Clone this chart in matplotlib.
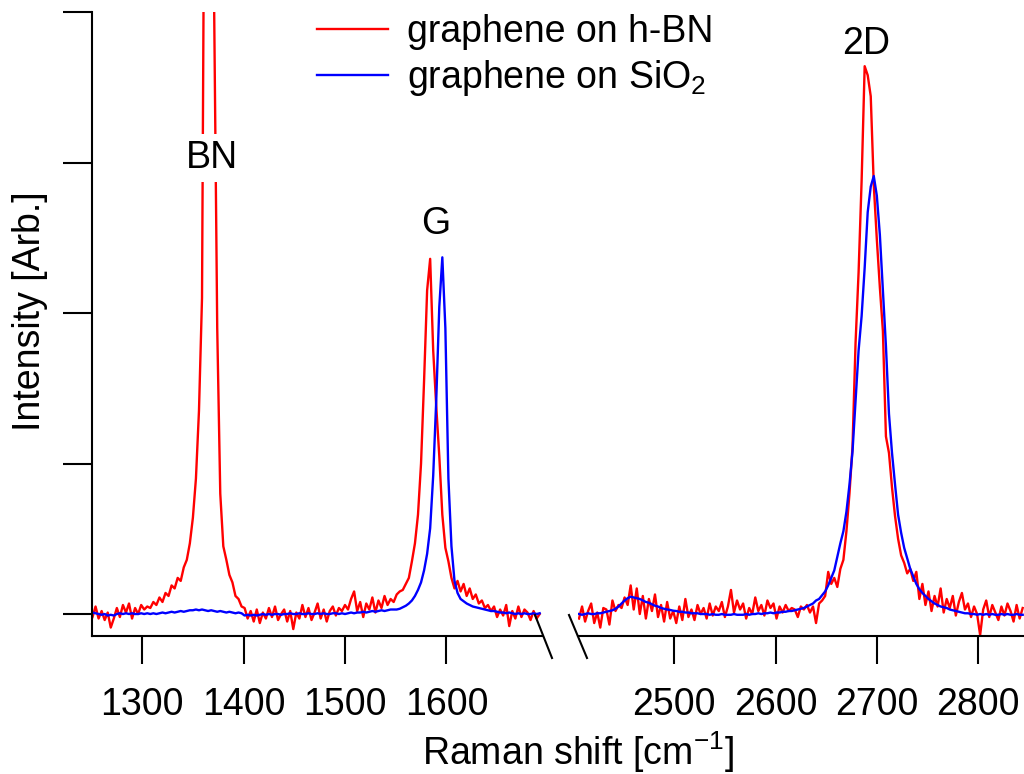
#!/usr/bin/env python
# -*- coding: utf-8 -*-
"""Raman spectra of graphene on h-BN and on SiO2, broken x axis."""

import numpy as np
import matplotlib
matplotlib.use('Agg')
import matplotlib.pyplot as plt
from matplotlib.lines import Line2D

plt.rcParams['font.family'] = ['Liberation Sans', 'DejaVu Sans']
plt.rcParams['mathtext.fontset'] = 'custom'
plt.rcParams['mathtext.rm'] = 'Liberation Sans'
plt.rcParams['mathtext.it'] = 'Liberation Sans:italic'
plt.rcParams['mathtext.bf'] = 'Liberation Sans:bold'

# spectrometer grid: 3 cm-1 steps, first channel of each window
start_low, start_high, step = 1251, 2406, 3

# low window 1251 .. 1692 cm-1 (BN and G)
hbn_low = [
    -0.02, 0.05, -0.03, 0.02, -0.04, 0.01, -0.09, -0.03, 0.04, -0.02,
    0.06, 0.01, 0.07, -0.03, 0.04, 0.00, 0.06, 0.03, 0.05, 0.04,
    0.08, 0.06, 0.11, 0.08, 0.14, 0.12, 0.19, 0.17, 0.24, 0.22,
    0.31, 0.36, 0.47, 0.64, 0.90, 1.35, 2.10, 6.00, 14.0, 13.0,
    4.00, 1.90, 0.80, 0.45, 0.36, 0.26, 0.21, 0.12, 0.10, 0.05,
    0.04, -0.03, 0.02, -0.05, 0.03, -0.06, 0.01, -0.03, 0.04, -0.02,
    0.05, -0.04, 0.00, 0.03, -0.05, 0.02, -0.10, 0.01, -0.03, 0.06,
    -0.02, 0.04, -0.04, 0.01, 0.07, -0.03, 0.03, -0.05, 0.02, 0.05,
    -0.01, 0.04, 0.02, 0.06, 0.03, 0.10, 0.15, 0.02, 0.08, -0.02,
    0.07, 0.03, 0.11, 0.01, 0.09, 0.04, 0.12, 0.06, 0.10, 0.08,
    0.13, 0.15, 0.16, 0.20, 0.24, 0.35, 0.47, 0.66, 1.00, 1.55,
    2.15, 2.36, 1.75, 1.38, 1.05, 0.66, 0.44, 0.35, 0.24, 0.17,
    0.22, 0.15, 0.20, 0.12, 0.17, 0.10, 0.13, 0.07, 0.09, 0.04,
    0.06, 0.02, 0.05, -0.02, 0.03, -0.01, 0.06, -0.08, 0.02, -0.03,
    0.05, -0.02, 0.03, 0.01, -0.04, 0.02, -0.03, 0.00,
]
sio2_low = [
    0.010, 0.005, 0.000, -0.005, 0.000, -0.010, -0.005, -0.010, 0.000, 0.005,
    0.000, 0.005, 0.000, 0.005, 0.000, 0.000, 0.005, 0.000, 0.005, 0.000,
    0.005, 0.000, 0.005, 0.010, 0.005, 0.010, 0.015, 0.010, 0.015, 0.020,
    0.015, 0.020, 0.025, 0.025, 0.030, 0.025, 0.030, 0.025, 0.020, 0.025,
    0.020, 0.015, 0.020, 0.015, 0.010, 0.015, 0.010, 0.005, 0.010, 0.005,
    -0.010, -0.005, -0.010, -0.005, -0.010, -0.005, 0.000, -0.005, 0.000, -0.005,
    0.000, 0.000, -0.005, 0.000, 0.000, 0.005, 0.000, 0.000, 0.005, 0.000,
    0.000, 0.005, 0.000, 0.000, 0.005, 0.000, 0.005, 0.000, 0.000, 0.005,
    0.005, 0.000, 0.005, 0.000, 0.005, 0.010, 0.005, 0.010, 0.010, 0.015,
    0.010, 0.015, 0.020, 0.015, 0.020, 0.025, 0.020, 0.025, 0.030, 0.030,
    0.030, 0.035, 0.045, 0.055, 0.070, 0.090, 0.120, 0.160, 0.210, 0.290,
    0.400, 0.570, 0.920, 1.420, 2.040, 2.370, 1.900, 0.900, 0.450, 0.220,
    0.140, 0.100, 0.085, 0.070, 0.060, 0.050, 0.045, 0.040, 0.035, 0.030,
    0.025, 0.020, 0.020, 0.015, 0.010, 0.010, 0.005, 0.010, 0.005, 0.000,
    0.005, 0.000, 0.005, 0.000, 0.000, 0.005, 0.000, 0.005,
]

# high window 2406 .. 2844 cm-1 (D' region and 2D)
hbn_high = [
    -0.03, 0.05, -0.05, 0.02, 0.07, -0.06, 0.01, -0.09, 0.04, 0.03,
    -0.07, 0.09, 0.02, 0.06, 0.04, 0.11, 0.06, 0.19, 0.03, 0.17,
    0.00, 0.12, -0.03, 0.10, 0.02, 0.13, -0.02, 0.06, -0.05, 0.08,
    -0.03, 0.02, -0.06, 0.05, -0.04, 0.10, -0.02, 0.03, -0.04, 0.06,
    0.00, 0.04, -0.03, 0.07, -0.01, 0.05, 0.02, 0.08, -0.02, 0.05,
    0.16, 0.01, 0.09, 0.03, 0.07, -0.03, 0.04, 0.00, 0.11, 0.02,
    0.06, -0.01, 0.09, 0.04, 0.07, -0.03, 0.05, 0.01, 0.06, 0.02,
    0.04, 0.03, -0.02, 0.05, 0.03, 0.06, 0.01, 0.05, -0.06, 0.07,
    0.09, 0.12, 0.28, 0.20, 0.24, 0.18, 0.30, 0.36, 0.55, 0.80,
    1.11, 1.80, 2.27, 2.88, 3.64, 3.58, 3.44, 2.85, 2.49, 2.17,
    1.88, 1.18, 1.07, 0.84, 0.65, 0.50, 0.39, 0.34, 0.27, 0.30,
    0.22, 0.28, 0.10, 0.20, 0.06, 0.15, 0.02, 0.12, 0.05, 0.17,
    0.01, 0.10, 0.04, 0.12, -0.01, 0.08, 0.14, 0.03, 0.07, -0.02,
    0.05, 0.00, -0.14, 0.03, 0.09, -0.02, 0.06, 0.01, -0.04, 0.05,
    -0.01, 0.07, 0.02, -0.05, 0.06, -0.03, 0.04,
]
sio2_high = [
    0.000, -0.005, 0.000, 0.005, 0.000, 0.000, 0.005, 0.005, 0.010, 0.015,
    0.020, 0.025, 0.035, 0.050, 0.070, 0.090, 0.105, 0.115, 0.110, 0.105,
    0.100, 0.090, 0.080, 0.075, 0.065, 0.055, 0.050, 0.040, 0.035, 0.030,
    0.027, 0.022, 0.020, 0.015, 0.015, 0.010, 0.010, 0.005, 0.005, 0.005,
    0.000, 0.000, 0.000, -0.005, 0.000, -0.005, -0.005, 0.000, -0.005, -0.005,
    -0.005, 0.000, -0.005, -0.005, -0.005, 0.000, -0.005, 0.000, 0.000, 0.005,
    0.000, 0.005, 0.005, 0.010, 0.005, 0.010, 0.010, 0.015, 0.015, 0.020,
    0.020, 0.025, 0.030, 0.035, 0.040, 0.050, 0.060, 0.070, 0.090, 0.100,
    0.125, 0.150, 0.190, 0.240, 0.290, 0.380, 0.470, 0.550, 0.680, 0.860,
    1.080, 1.420, 1.750, 1.980, 2.300, 2.670, 2.840, 2.910, 2.780, 2.520,
    2.150, 1.780, 1.330, 1.070, 0.860, 0.660, 0.540, 0.440, 0.370, 0.300,
    0.250, 0.200, 0.165, 0.140, 0.120, 0.100, 0.085, 0.070, 0.060, 0.050,
    0.045, 0.040, 0.030, 0.025, 0.020, 0.015, 0.010, 0.005, 0.005, 0.000,
    0.000, -0.005, 0.000, -0.005, 0.000, -0.005, 0.000, -0.005, -0.005, 0.000,
    -0.005, 0.000, -0.005, -0.005, 0.000, -0.005, -0.005,
]

x_low = start_low + step * np.arange(len(hbn_low))
x_high = start_high + step * np.arange(len(hbn_high))

labels = ['graphene on h-BN', 'graphene on SiO$_2$']
colors = ['#ff0000', '#0000ff']
fs = 27
lw = 1.7

W, H = 1024, 774
fig = plt.figure(figsize=(W / 100, H / 100), dpi=100)
ax1 = fig.add_axes([92 / W, 138 / H, 450 / W, 624 / H])
ax2 = fig.add_axes([578 / W, 138 / H, 446 / W, 624 / H], sharey=ax1)

ax1.plot(x_low, hbn_low, color=colors[0], lw=lw)
ax1.plot(x_low, sio2_low, color=colors[1], lw=lw)
ax2.plot(x_high, hbn_high, color=colors[0], lw=lw)
ax2.plot(x_high, sio2_high, color=colors[1], lw=lw)

ax1.set_xlim(1250.5, 1694.3)
ax2.set_xlim(2405, 2845.3)
ax1.set_ylim(-0.146, 4.0)
ax1.set_xticks([1300, 1400, 1500, 1600])
ax2.set_xticks([2500, 2600, 2700, 2800])
ax1.set_yticks([0, 1, 2, 3, 4])

for ax in (ax1, ax2):
    for s in ('top', 'right'):
        ax.spines[s].set_visible(False)
    ax.spines['bottom'].set_linewidth(1.5)
    ax.spines['left'].set_linewidth(1.5)
    ax.tick_params(axis='x', direction='out', length=20, width=1.5,
                   pad=17, labelsize=fs)
    ax.tick_params(axis='y', direction='out', length=21, width=1.5,
                   labelleft=False)
    ax.patch.set_visible(False)
ax2.spines['left'].set_visible(False)
ax2.tick_params(axis='y', left=False)

# break marks
brk = dict(color='k', lw=1.5, clip_on=False)
ax1.plot([1 - 7 / 450, 1 + 10 / 450], [21 / 624, -22 / 624],
         transform=ax1.transAxes, **brk)
ax2.plot([-9 / 446, 9 / 446], [21 / 624, -22 / 624],
         transform=ax2.transAxes, **brk)

# peak names
ax1.text(1368.3, 3.03, 'BN', fontsize=fs, ha='center', va='center',
         bbox=dict(facecolor='white', edgecolor='none', pad=4))
ax1.text(1589.8, 2.59, 'G', fontsize=fs, ha='center', va='center')
ax2.text(2689.5, 3.79, '2D', fontsize=fs, ha='center', va='center')

handles = [Line2D([], [], color=c, lw=lw) for c in colors]
fig.legend(handles, labels, loc='upper left',
           bbox_to_anchor=(317 / W, 1 - 14 / H), frameon=False,
           fontsize=fs, borderpad=0, borderaxespad=0, handlelength=1.9,
           handletextpad=0.5, labelspacing=0.22)

fig.text(30 / W, 1 - 311 / H, 'Intensity [Arb.]', fontsize=fs,
         rotation=90, ha='center', va='center')
fig.text(578 / W, 1 - 765 / H, 'Raman shift [cm$^{-1}$]', fontsize=fs,
         ha='center', va='baseline')

fig.savefig('out.png', dpi=100)
